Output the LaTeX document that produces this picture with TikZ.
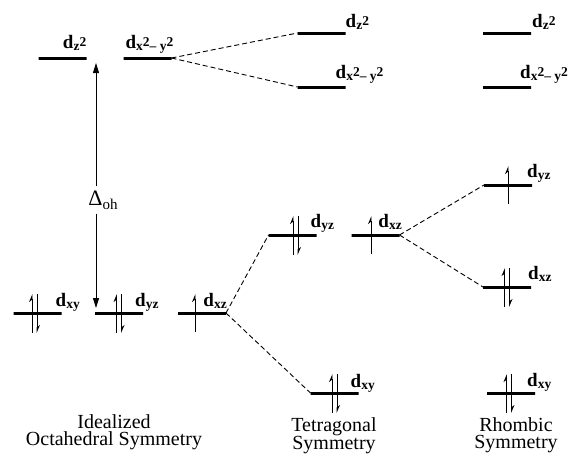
\documentclass[tikz,border=0pt]{standalone}
\usepackage{fontspec}
\setmainfont{Liberation Serif}
\usetikzlibrary{arrows.meta}
\newcommand{\sbs}[1]{\raisebox{-2pt}{\fontsize{13.5}{14}\selectfont #1}}
\newcommand{\sps}[1]{\raisebox{2pt}{\fontsize{13.5}{14}\selectfont #1}}
\newcommand{\epair}[2]{%
\draw[spin] ([xshift=#2-2.5,yshift=-20pt]#1.center) -- ([xshift=#2-2.5,yshift=19pt]#1.center);
\draw[spin] ([xshift=#2+2.5,yshift=19pt]#1.center) -- ([xshift=#2+2.5,yshift=-20pt]#1.center);}
\newcommand{\eup}[2]{%
\draw[spin] ([xshift=#2,yshift=-19pt]#1.center) -- ([xshift=#2,yshift=19pt]#1.center);}
\begin{document}
\begin{tikzpicture}[x=1pt, y=-1pt,
  level/.style={draw, line width=3pt, minimum width=48pt, minimum height=0pt, inner sep=0pt, outer sep=0pt},
  orb/.style={font=\fontsize{19}{19}\selectfont\bfseries, inner sep=0pt},
  corr/.style={dash pattern=on 5pt off 3pt, line width=0.9pt},
  spin/.style={line width=0.9pt, -{Stealth[left,length=7pt,width=6pt]}},
  title/.style={font=\fontsize{20}{17}\selectfont, align=center, inner sep=0pt, anchor=north}]
\useasboundingbox (0,0) rectangle (575,456);
% idealized octahedral
\node[level] (oz2) at (62.5,58) {};
\node[level] (ox2) at (147.5,58) {};
\node[level] (oxy) at (37.5,313) {};
\node[level] (oyz) at (119,313) {};
\node[level] (oxz) at (202,313) {};
\node[orb,anchor=base east] (loz2) at ([yshift=10pt]oz2.east) {d\sbs{z}\sps{2}};
\node[orb,anchor=base east] (lox2) at ([xshift=2pt,yshift=10pt]ox2.east) {d\sbs{x}\sps{2}\sbs{-- y}\sps{2}};
\node[orb,anchor=base west] (loxy) at ([xshift=-6pt,yshift=7pt]oxy.east) {d\sbs{xy}};
\node[orb,anchor=base west] (loyz) at ([xshift=-8pt,yshift=7pt]oyz.east) {d\sbs{yz}};
\node[orb,anchor=base east] (loxz) at ([xshift=1pt,yshift=7pt]oxz.east) {d\sbs{xz}};
\epair{oxy}{-3}
\epair{oyz}{0}
\eup{oxz}{-7}
\coordinate (dtop) at (96,63);
\coordinate (dbot) at (96,308);
\node[font=\fontsize{22}{22}\selectfont, inner sep=4pt] (doh) at (103,200) {Δ\raisebox{-4pt}{\fontsize{15}{15}\selectfont oh}};
\draw[line width=0.9pt, -{Triangle[length=10pt,width=6pt]}] (doh.north -| dtop) -- (dtop);
\draw[line width=0.9pt, -{Triangle[length=10pt,width=6pt]}] (doh.south -| dbot) -- (dbot);
% tetragonal
\node[level] (tz2) at (321.5,33) {};
\node[level] (tx2) at (321.5,87) {};
\node[level] (tyz) at (292.5,235) {};
\node[level] (txz) at (375.5,235) {};
\node[level] (txy) at (334.5,393) {};
\node[orb,anchor=base west] (ltz2) at ([yshift=6pt]tz2.east) {d\sbs{z}\sps{2}};
\node[orb,anchor=base west] (ltx2) at ([xshift=-10pt,yshift=9pt]tx2.east) {d\sbs{x}\sps{2}\sbs{-- y}\sps{2}};
\node[orb,anchor=base west] (ltyz) at ([xshift=-6pt,yshift=8pt]tyz.east) {d\sbs{yz}};
\node[orb,anchor=base east] (ltxz) at ([xshift=2.5pt,yshift=8pt]txz.east) {d\sbs{xz}};
\node[orb,anchor=base west] (ltxy) at ([xshift=-8pt,yshift=6pt]txy.east) {d\sbs{xy}};
\epair{tyz}{3}
\eup{txz}{-4.5}
\epair{txy}{0}
% rhombic
\node[level] (rz2) at (507,33) {};
\node[level] (rx2) at (507,87) {};
\node[level] (ryz) at (508,185) {};
\node[level] (rxz) at (507,287) {};
\node[level] (rxy) at (511,393) {};
\node[orb,anchor=base west] (lrz2) at ([xshift=1pt,yshift=6pt]rz2.east) {d\sbs{z}\sps{2}};
\node[orb,anchor=base west] (lrx2) at ([xshift=-11pt,yshift=9pt]rx2.east) {d\sbs{x}\sps{2}\sbs{-- y}\sps{2}};
\node[orb,anchor=base west] (lryz) at ([xshift=-5pt,yshift=8pt]ryz.east) {d\sbs{yz}};
\node[orb,anchor=base west] (lrxz) at ([xshift=-3pt,yshift=8pt]rxz.east) {d\sbs{xz}};
\node[orb,anchor=base west] (lrxy) at ([xshift=-8pt,yshift=7pt]rxy.east) {d\sbs{xy}};
\eup{ryz}{0}
\epair{rxz}{0}
\epair{rxy}{-2}
% correlation lines
\draw[corr] (ox2.east) -- (tz2.west);
\draw[corr] (ox2.east) -- (tx2.west);
\draw[corr] (oxz.east) -- (tyz.west);
\draw[corr] (oxz.east) -- (txy.west);
\draw[corr] (txz.east) -- (ryz.west);
\draw[corr] (txz.east) -- (rxz.west);
\node[title] (toct) at (114,414) {Idealized\\Octahedral Symmetry};
\node[title] (ttet) at (334,417) {Tetragonal\\Symmetry};
\node[title] (trho) at (516,417) {Rhombic\\Symmetry};
\end{tikzpicture}
\end{document}
